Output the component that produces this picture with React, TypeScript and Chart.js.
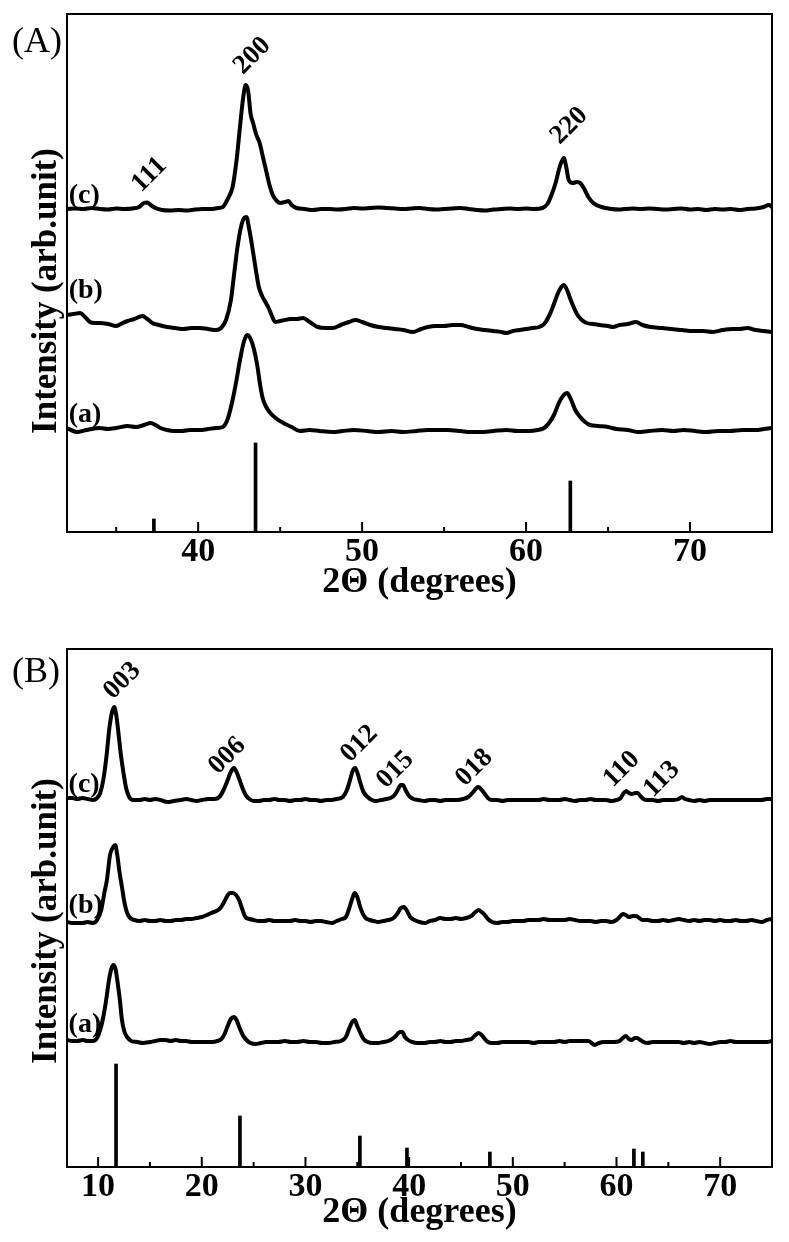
import React, { useEffect, useRef } from 'react';
import { Chart, registerables } from 'chart.js';

Chart.register(...registerables);

type Pt = [number, number];

const FONT = '"Liberation Serif", "Times New Roman", serif';

// ---------------- Panel (A) ----------------
const A_X_MIN = 32;
const A_X_MAX = 75;
const A_TICKS = [35, 40, 45, 50, 55, 60, 65, 70];
const A_Y_MAX = 518;
// vertical offsets of the stacked patterns (a), (b), (c)
const A_OFFSETS = [101, 204, 323];

const A_CURVE_A: Pt[] = [
  [32.0, 3], [32.6, -1], [33.2, 1], [34.0, 3], [34.5, 2], [35.0, 3], [35.7, 5], [36.2, 4], [36.7, 6],
  [37.1, 8], [37.4, 6], [37.7, 3], [38.1, 1], [38.5, 0], [39.0, 0], [39.5, 1], [40.1, 1], [40.6, 2],
  [41.1, 3], [41.5, 4], [41.8, 12], [42.1, 31], [42.35, 52], [42.55, 71], [42.8, 90], [43.0, 96],
  [43.2, 92], [43.4, 82], [43.6, 66], [43.8, 44], [43.95, 32], [44.15, 24], [44.4, 18], [44.8, 12],
  [45.2, 8], [45.7, 4], [46.2, 0], [46.8, 1], [47.4, 0], [48.2, -1], [48.8, 0], [49.5, 1], [50.3, 0],
  [51.0, -1], [51.8, 0], [52.5, -1], [53.3, 0], [54.0, 1], [55.2, 1], [56.0, 0], [56.6, -1], [57.2, -1],
  [58.0, 0], [58.8, 1], [59.5, 0], [60.2, 0], [60.7, 1], [61.1, 3], [61.4, 8], [61.7, 16], [62.0, 28],
  [62.25, 35], [62.5, 38], [62.75, 31], [63.0, 21], [63.3, 14], [63.6, 9], [63.9, 6], [64.4, 5],
  [65.0, 4], [65.5, 2], [66.2, 1], [66.8, -1], [67.5, 0], [68.3, 1], [69.0, 0], [69.6, 1], [70.3, 0],
  [71.0, -1], [71.7, 0], [72.4, 0], [73.2, 1], [74.0, 1], [74.5, 2], [75.0, 3],
];

const A_CURVE_B: Pt[] = [
  [32.0, 13], [32.4, 14], [32.8, 15], [33.1, 11], [33.4, 6], [33.7, 5], [34.0, 5], [34.5, 4], [35.0, 2],
  [35.4, 5], [35.7, 7], [36.1, 9], [36.6, 12], [36.9, 9], [37.2, 5], [37.6, 3], [38.1, 1], [38.6, 0],
  [39.1, -1], [39.6, 0], [40.1, 0], [40.6, -1], [41.1, -2], [41.4, 0], [41.7, 8], [42.0, 28],
  [42.2, 55], [42.4, 81], [42.6, 100], [42.8, 110], [42.95, 111], [43.1, 100], [43.3, 81], [43.5, 60],
  [43.7, 41], [43.9, 32], [44.1, 26], [44.3, 20], [44.5, 12], [44.7, 6], [45.0, 7], [45.3, 8], [45.6, 9],
  [46.0, 9], [46.4, 10], [46.8, 6], [47.3, 1], [47.8, 0], [48.2, 0], [48.7, 3], [49.2, 6], [49.6, 8],
  [50.0, 6], [50.5, 3], [51.0, 1], [51.5, 0], [52.0, -1], [52.5, -2], [53.1, -4], [53.6, -1], [54.0, 1],
  [54.5, 2], [55.0, 2], [55.5, 3], [56.0, 3], [56.5, 1], [57.0, -1], [57.5, -2], [58.0, -3], [58.5, -4],
  [58.8, -5], [59.2, -3], [59.6, -2], [60.0, -1], [60.4, 0], [60.8, 1], [61.1, 4], [61.4, 12], [61.7, 24],
  [61.95, 35], [62.15, 41], [62.3, 43], [62.5, 38], [62.7, 29], [62.9, 21], [63.1, 14], [63.4, 8],
  [63.7, 5], [64.1, 4], [64.5, 3], [65.0, 2], [65.3, 1], [65.7, 3], [66.2, 4], [66.7, 6], [67.1, 3],
  [67.6, 1], [68.3, 0], [68.8, -1], [69.5, -2], [70.2, -3], [70.8, -3], [71.4, -4], [72.0, -2],
  [72.6, -1], [73.0, -1], [73.5, 0], [74.0, -2], [74.5, -3], [75.0, -4],
];

const A_CURVE_C: Pt[] = [
  [32.0, 0], [32.5, 0.5], [33.0, 0], [33.5, 1], [34.0, 0], [34.5, -0.5], [35.0, 0.5], [35.5, 0],
  [36.0, 0.5], [36.4, 2], [36.7, 6], [36.9, 6.5], [37.1, 4], [37.4, 1], [37.8, -1], [38.3, -1.5],
  [38.8, -1], [39.3, -1.5], [39.8, -0.5], [40.3, 0], [40.8, 0], [41.2, 1], [41.5, 2], [41.8, 10],
  [42.1, 22], [42.35, 50], [42.55, 82], [42.75, 112], [42.9, 124], [43.05, 118], [43.2, 95],
  [43.35, 86], [43.55, 74], [43.75, 66], [43.95, 52], [44.15, 38], [44.35, 24], [44.55, 14],
  [44.8, 8], [45.0, 6], [45.3, 7], [45.5, 8], [45.7, 4], [46.0, 1], [46.5, 0], [47.0, -1], [47.5, 0],
  [48.0, 0], [48.5, -0.5], [49.0, 0], [49.5, 1], [50.0, 0.5], [50.5, 1], [51.0, 1.5], [51.5, 1],
  [52.0, 0.5], [52.5, 0], [53.0, 0.5], [53.5, 1], [54.0, 0], [54.5, -0.5], [55.0, 0], [55.5, 0.5],
  [56.0, 1], [56.5, 0], [57.0, -1], [57.5, -1.5], [58.0, -0.5], [58.5, 0], [59.0, 0.5], [59.5, 0],
  [60.0, 0.5], [60.5, 0], [61.0, 1], [61.3, 5], [61.55, 14], [61.8, 26], [62.05, 42], [62.3, 51],
  [62.45, 42], [62.6, 29], [62.85, 26], [63.1, 27], [63.3, 26], [63.55, 20], [63.8, 12], [64.1, 6],
  [64.6, 2], [65.2, 0], [65.7, -0.5], [66.0, 0], [66.5, 0.5], [67.0, 0], [67.5, 0.5], [68.0, 0],
  [68.5, -0.5], [69.0, 0], [69.5, 0.5], [70.0, -0.5], [70.5, 0], [71.0, -1], [71.5, 0], [72.0, -0.5],
  [72.5, 0], [73.0, -1], [73.5, 0], [74.0, 0.5], [74.5, 2], [74.8, 4], [75.0, 2],
];

// reference pattern sticks (A)
const A_REF_POS = [37.3, 43.5, 62.7];
const A_REF_INT = [13, 89, 51];

// (hkl) annotations (A)
const A_HKL = ['111', '200', '220'];
const A_HKL_X = [36.51, 42.73, 62.06];
const A_HKL_Y = [339, 457, 387];

const A_CURVE_NAMES = ['(a)', '(b)', '(c)'];
const A_CURVE_LABEL_X = 32.1;
const A_CURVE_LABEL_Y = [110, 234, 329];

// ---------------- Panel (B) ----------------
const B_X_MIN = 7;
const B_X_MAX = 75;
const B_TICKS = [10, 15, 20, 25, 30, 35, 40, 45, 50, 55, 60, 65, 70];
const B_Y_MAX = 518;
const B_OFFSETS = [125, 246, 367];

const B_CURVE_A: Pt[] = [
  [7.0, 2], [7.5, 1], [8.0, 1], [8.5, 2], [9.0, 1], [9.5, 1], [9.9, 4], [10.2, 12], [10.5, 25],
  [10.75, 40], [11.05, 62], [11.3, 74], [11.5, 77], [11.7, 72], [11.9, 58], [12.1, 42], [12.3, 22],
  [12.55, 10], [12.8, 5], [13.2, 1], [13.8, 0], [14.3, -1], [15.0, 0], [15.5, 1], [16.0, 2], [16.5, 2],
  [17.0, 1], [17.5, 2], [18.0, 1], [18.5, 1], [19.0, 0], [19.5, 0], [20.0, 0], [20.5, 0], [21.0, 0],
  [21.5, 1], [21.9, 3], [22.2, 8], [22.5, 16], [22.8, 23], [23.1, 25], [23.35, 22], [23.65, 14],
  [23.95, 7], [24.3, 2], [24.7, -1], [25.2, -2], [25.7, -1], [26.2, 0], [26.8, 0], [27.4, 0], [28.0, 1],
  [28.6, 0], [29.2, 0], [29.8, 1], [30.4, 0], [31.0, 0], [31.6, -1], [32.2, -1], [32.8, 0], [33.4, 1],
  [33.9, 5], [34.2, 13], [34.5, 20], [34.75, 22], [35.0, 16], [35.3, 9], [35.6, 3], [36.0, 0],
  [36.5, -1], [37.0, -1], [37.5, 0], [38.0, 1], [38.5, 4], [38.8, 7], [39.1, 10], [39.35, 10],
  [39.6, 5], [39.9, 2], [40.3, 0], [40.8, -1], [41.5, -1], [42.0, 0], [42.5, 0], [43.0, 1], [43.5, 0],
  [44.0, 0], [44.5, 1], [45.0, 1], [45.5, 2], [46.0, 3], [46.4, 7], [46.7, 9], [47.0, 7], [47.3, 3],
  [47.6, 0], [48.0, -1], [48.5, -1], [49.0, 0], [49.5, 0], [50.0, 0], [50.5, 0], [51.0, 0], [51.5, 0],
  [52.0, -1], [52.5, 0], [53.0, 0], [53.5, 0], [54.0, 0], [54.5, 1], [55.0, 0], [55.5, 1], [56.0, 1],
  [56.5, 1], [57.0, 1], [57.3, 1], [57.9, -3], [58.3, -1], [58.8, 0], [59.3, 0], [59.8, 0], [60.3, 1],
  [60.6, 4], [60.9, 6], [61.2, 3], [61.5, 2], [61.75, 4], [62.0, 4], [62.3, 2], [62.6, 0], [63.0, -1],
  [63.5, 0], [64.0, 0], [64.5, 0], [65.0, 0], [65.5, 0], [66.0, 0], [66.5, -1], [67.0, 0], [67.5, -1],
  [68.0, 0], [68.5, -1], [69.0, -2], [69.5, -1], [70.0, 0], [70.5, 0], [71.0, 1], [71.5, 0], [72.0, 0],
  [72.5, 0], [73.0, 0], [73.5, 0], [74.0, 0], [74.5, 0], [75.0, 1],
];

const B_CURVE_B: Pt[] = [
  [7.0, -1], [7.5, -2], [8.0, -2], [8.5, -2], [9.0, -1], [9.5, -2], [9.9, 1], [10.3, 11], [10.6, 28],
  [10.85, 41], [11.15, 66], [11.45, 74], [11.65, 76], [11.85, 66], [12.05, 50], [12.3, 34], [12.55, 18],
  [12.8, 8], [13.1, 3], [13.5, 1], [14.0, 0], [14.5, 1], [15.0, 0], [15.5, 0], [16.0, 1], [16.5, 0],
  [17.0, 0], [17.5, 1], [18.0, 1], [18.5, 2], [19.0, 2], [19.5, 3], [20.0, 4], [20.5, 6], [20.9, 8],
  [21.4, 10], [21.8, 13], [22.1, 18], [22.4, 24], [22.7, 28], [23.0, 28], [23.3, 26], [23.6, 21],
  [23.9, 12], [24.2, 4], [24.6, 2], [25.0, 1], [25.5, 0], [26.0, 0], [26.5, 1], [27.0, 0], [27.5, 0],
  [28.0, 0], [28.5, 0], [29.0, 1], [29.5, 0], [30.0, 0], [30.5, -1], [31.0, 0], [31.5, 0], [32.0, -1],
  [32.6, -2], [33.0, 0], [33.5, 2], [33.9, 4], [34.2, 12], [34.5, 22], [34.75, 28], [35.0, 24],
  [35.25, 15], [35.5, 8], [35.8, 3], [36.2, 1], [36.6, 0], [37.0, -1], [37.5, 0], [38.0, 1], [38.5, 3],
  [38.9, 8], [39.2, 13], [39.5, 14], [39.8, 10], [40.1, 4], [40.5, 1], [41.0, -1], [41.5, -2], [42.0, 0],
  [42.5, 1], [43.0, 3], [43.5, 2], [44.0, 2], [44.5, 3], [45.0, 2], [45.5, 3], [46.0, 5], [46.4, 9],
  [46.7, 11], [47.0, 9], [47.3, 6], [47.6, 2], [48.0, -1], [48.5, -2], [49.0, -1], [49.5, -1], [50.0, 0],
  [50.5, 0], [51.0, 0], [51.5, 1], [52.0, 1], [52.5, 1], [53.0, 2], [53.5, 1], [54.0, 1], [54.5, 1],
  [55.0, 1], [55.5, 2], [56.0, 1], [56.5, 0], [57.0, 0], [57.5, 0], [58.0, -1], [58.5, 0], [59.0, 0],
  [59.5, -1], [60.0, 1], [60.3, 4], [60.6, 7], [60.9, 6], [61.2, 4], [61.6, 5], [61.9, 5], [62.2, 3],
  [62.5, 1], [63.0, 1], [63.5, 0], [64.0, 0], [64.5, 1], [65.0, 0], [65.5, 1], [66.0, 2], [66.5, 1],
  [67.0, 0], [67.5, 1], [68.0, 0], [68.5, 1], [69.0, 1], [69.5, 0], [70.0, 1], [70.5, 0], [71.0, 0],
  [71.5, 1], [72.0, 0], [72.5, 0], [73.0, 1], [73.5, 0], [74.0, -1], [74.5, 1], [75.0, 2],
];

const B_CURVE_C: Pt[] = [
  [7.0, 2], [7.5, 2], [8.0, 1], [8.5, 2], [9.0, 1], [9.5, 0], [9.9, 2], [10.2, 7], [10.5, 20],
  [10.8, 43], [11.1, 73], [11.35, 88], [11.55, 93], [11.75, 85], [11.95, 68], [12.2, 45], [12.45, 27],
  [12.7, 12], [13.0, 3], [13.4, 0], [14.0, 0], [14.5, 1], [15.0, 0], [15.5, 1], [16.0, 0], [16.7, -2],
  [17.3, -1], [18.0, 0], [18.5, 1], [19.0, 0], [19.5, -1], [20.0, 0], [20.6, 1], [21.2, 1], [21.7, 3],
  [22.1, 10], [22.5, 20], [22.8, 28], [23.1, 32], [23.35, 28], [23.65, 20], [24.0, 10], [24.3, 4],
  [24.6, 1], [25.0, -1], [25.5, -1], [26.0, 0], [26.5, 0], [27.0, 1], [27.5, 0], [28.0, 0], [28.5, -1],
  [29.0, 0], [29.5, 0], [30.0, 1], [30.5, 0], [31.0, 0], [31.5, -1], [32.0, 0], [32.5, 0], [33.0, 1],
  [33.6, 3], [34.0, 10], [34.3, 20], [34.55, 29], [34.8, 32], [35.05, 26], [35.3, 17], [35.6, 8],
  [36.0, 3], [36.4, 0], [36.8, -1], [37.3, 0], [37.8, 1], [38.2, 2], [38.6, 5], [38.9, 10], [39.2, 15],
  [39.4, 15], [39.7, 9], [40.0, 4], [40.4, 1], [40.9, 0], [41.5, -1], [42.0, 0], [42.5, 0], [43.0, -1],
  [43.5, 0], [44.0, 0], [44.6, 0], [45.2, 1], [45.7, 3], [46.1, 7], [46.5, 12], [46.7, 13], [47.0, 10],
  [47.3, 6], [47.6, 2], [48.0, 0], [48.5, 0], [49.0, -1], [49.5, 0], [50.0, 0], [50.5, 0], [51.0, 0],
  [51.5, 0], [52.0, 0], [52.5, 0], [53.0, 1], [53.5, 0], [54.0, 0], [54.5, 0], [55.0, 1], [55.5, 0],
  [56.0, -1], [56.5, 0], [57.0, 0], [57.5, 1], [58.0, 0], [58.5, 0], [59.0, 0], [59.5, -1], [60.0, 0],
  [60.4, 2], [60.7, 7], [60.95, 9], [61.2, 7], [61.5, 6], [61.8, 7], [62.05, 7], [62.3, 4], [62.6, 1],
  [63.0, 0], [63.5, 0], [64.0, -1], [64.5, 0], [65.0, 0], [65.5, 0], [66.0, 1], [66.3, 3], [66.6, 1],
  [67.0, 0], [67.5, -1], [68.0, 0], [68.5, -1], [69.0, 0], [69.5, 0], [70.0, 0], [70.5, 0], [71.0, 0],
  [71.5, 0], [72.0, 0], [72.5, 0], [73.0, 0], [73.5, 0], [74.0, 0], [74.5, 1], [75.0, 1],
];

const B_REF_POS = [11.73, 23.68, 35.25, 39.79, 47.79, 61.68, 62.54];
const B_REF_INT = [103, 51, 31, 19, 15, 18, 15];

const B_HKL = ['003', '006', '012', '015', '018', '110', '113'];
const B_HKL_X = [11.44, 21.56, 34.29, 37.76, 45.38, 59.65, 63.51];
const B_HKL_Y = [467, 392, 404, 378, 380, 379, 369];

const B_CURVE_NAMES = ['(a)', '(b)', '(c)'];
const B_CURVE_LABEL_X = 7.15;
const B_CURVE_LABEL_Y = [135, 254, 375];

const X_TITLE = '2\u0398 (degrees)';
const Y_TITLE = 'Intensity (arb.unit)';

interface PanelCfg {
  letter: string;
  letterDy: number;
  yTitleDy: number;
  xMin: number;
  xMax: number;
  yMax: number;
  ticks: number[];
  curves: Pt[][];
  offsets: number[];
  refPos: number[];
  refInt: number[];
  hkl: string[];
  hklX: number[];
  hklY: number[];
  names: string[];
  nameX: number;
  nameY: number[];
  padTop: number;
  axisHeight: number;
  titlePadBottom: number;
  titleSize: number;
  height: number;
}

function makeDecor(cfg: PanelCfg) {
  return {
    id: 'decor',
    afterDatasetsDraw(chart: any) {
      const { ctx, chartArea: ca, scales } = chart;
      const xs = scales.x;
      const ys = scales.y;
      ctx.save();
      ctx.strokeStyle = '#000';
      ctx.fillStyle = '#000';
      ctx.lineWidth = 2;
      ctx.strokeRect(ca.left, ca.top, ca.right - ca.left, ca.bottom - ca.top);
      cfg.ticks.forEach((v) => {
        const px = xs.getPixelForValue(v);
        const len = v % 10 === 0 ? 10 : 5;
        ctx.beginPath();
        ctx.moveTo(px, ca.bottom);
        ctx.lineTo(px, ca.bottom - len);
        ctx.stroke();
      });
      ctx.textAlign = 'left';
      ctx.textBaseline = 'alphabetic';
      ctx.font = `bold 27px ${FONT}`;
      cfg.hkl.forEach((t, i) => {
        ctx.save();
        ctx.translate(xs.getPixelForValue(cfg.hklX[i]), ys.getPixelForValue(cfg.hklY[i]));
        ctx.rotate(-Math.PI / 4);
        ctx.fillText(t, 0, 0);
        ctx.restore();
      });
      ctx.font = `bold 28px ${FONT}`;
      cfg.names.forEach((t, i) => {
        ctx.fillText(t, xs.getPixelForValue(cfg.nameX), ys.getPixelForValue(cfg.nameY[i]));
      });
      ctx.font = `36px ${FONT}`;
      ctx.fillText(cfg.letter, ca.left - 55, ca.top + cfg.letterDy);
      ctx.save();
      ctx.font = `bold 35px ${FONT}`;
      ctx.textAlign = 'center';
      ctx.translate(ca.left - 11, ca.top + cfg.yTitleDy);
      ctx.rotate(-Math.PI / 2);
      ctx.fillText(Y_TITLE, 0, 0);
      ctx.restore();
      ctx.restore();
    },
  };
}

function Panel({ cfg }: { cfg: PanelCfg }) {
  const ref = useRef<HTMLCanvasElement | null>(null);
  useEffect(() => {
    if (!ref.current) return;
    const lineSets = cfg.curves.map((c, i) => ({
      type: 'line' as const,
      data: c.map(([x, y]) => ({ x, y: y + cfg.offsets[i] })),
      borderColor: '#000',
      borderWidth: 4,
      pointRadius: 0,
      tension: 0.3,
      cubicInterpolationMode: 'monotone' as const,
      borderJoinStyle: 'round' as const,
      borderCapStyle: 'round' as const,
      fill: false,
    }));
    const bars = {
      type: 'bar' as const,
      data: cfg.refPos.map((x, i) => ({ x, y: cfg.refInt[i] })),
      backgroundColor: '#000',
      borderWidth: 0,
      barThickness: 3,
      grouped: false,
    };
    const chart = new Chart(ref.current, {
      type: 'line',
      data: { datasets: [...lineSets, bars] as any },
      options: {
        responsive: false,
        animation: false,
        devicePixelRatio: 1,
        layout: { padding: { left: 67, right: 17, top: cfg.padTop, bottom: 0 } },
        plugins: { legend: { display: false }, tooltip: { enabled: false } },
        scales: {
          x: {
            type: 'linear',
            min: cfg.xMin,
            max: cfg.xMax,
            offset: false,
            afterBuildTicks: (s: any) => {
              s.ticks = cfg.ticks.map((v) => ({ value: v }));
            },
            afterFit: (s: any) => {
              s.height = cfg.axisHeight;
            },
            grid: { display: false, drawTicks: false, offset: false },
            border: { display: false },
            ticks: {
              color: '#000',
              padding: 0,
              autoSkip: false,
              maxRotation: 0,
              font: { family: FONT, size: 34, weight: 'bold' },
              callback: (v: any) => (Number(v) % 10 === 0 ? String(v) : ''),
            },
            title: {
              display: true,
              text: X_TITLE,
              color: '#000',
              font: { family: FONT, size: cfg.titleSize, weight: 'bold' },
              padding: { top: 0, bottom: cfg.titlePadBottom },
            },
          },
          y: { type: 'linear', display: false, min: 0, max: cfg.yMax },
        },
      } as any,
      plugins: [makeDecor(cfg)],
    });
    return () => chart.destroy();
  }, [cfg]);
  return <canvas ref={ref} width={789} height={cfg.height} style={{ display: 'block', width: 789, height: cfg.height }} />;
}

const PANEL_A: PanelCfg = {
  letter: '(A)', letterDy: 38, yTitleDy: 277,
  xMin: A_X_MIN, xMax: A_X_MAX, yMax: A_Y_MAX, ticks: A_TICKS,
  curves: [A_CURVE_A, A_CURVE_B, A_CURVE_C], offsets: A_OFFSETS,
  refPos: A_REF_POS, refInt: A_REF_INT,
  hkl: A_HKL, hklX: A_HKL_X, hklY: A_HKL_Y,
  names: A_CURVE_NAMES, nameX: A_CURVE_LABEL_X, nameY: A_CURVE_LABEL_Y,
  padTop: 14, axisHeight: 88, titlePadBottom: 16, titleSize: 36, height: 620,
};

const PANEL_B: PanelCfg = {
  letter: '(B)', letterDy: 33, yTitleDy: 272,
  xMin: B_X_MIN, xMax: B_X_MAX, yMax: B_Y_MAX, ticks: B_TICKS,
  curves: [B_CURVE_A, B_CURVE_B, B_CURVE_C], offsets: B_OFFSETS,
  refPos: B_REF_POS, refInt: B_REF_INT,
  hkl: B_HKL, hklX: B_HKL_X, hklY: B_HKL_Y,
  names: B_CURVE_NAMES, nameX: B_CURVE_LABEL_X, nameY: B_CURVE_LABEL_Y,
  padTop: 29, axisHeight: 75, titlePadBottom: 8, titleSize: 36, height: 622,
};

export default function App() {
  return (
    <div style={{ position: 'absolute', left: 0, top: 0, width: 789, height: 1242, background: '#fff' }}>
      <Panel cfg={PANEL_A} />
      <Panel cfg={PANEL_B} />
    </div>
  );
}
